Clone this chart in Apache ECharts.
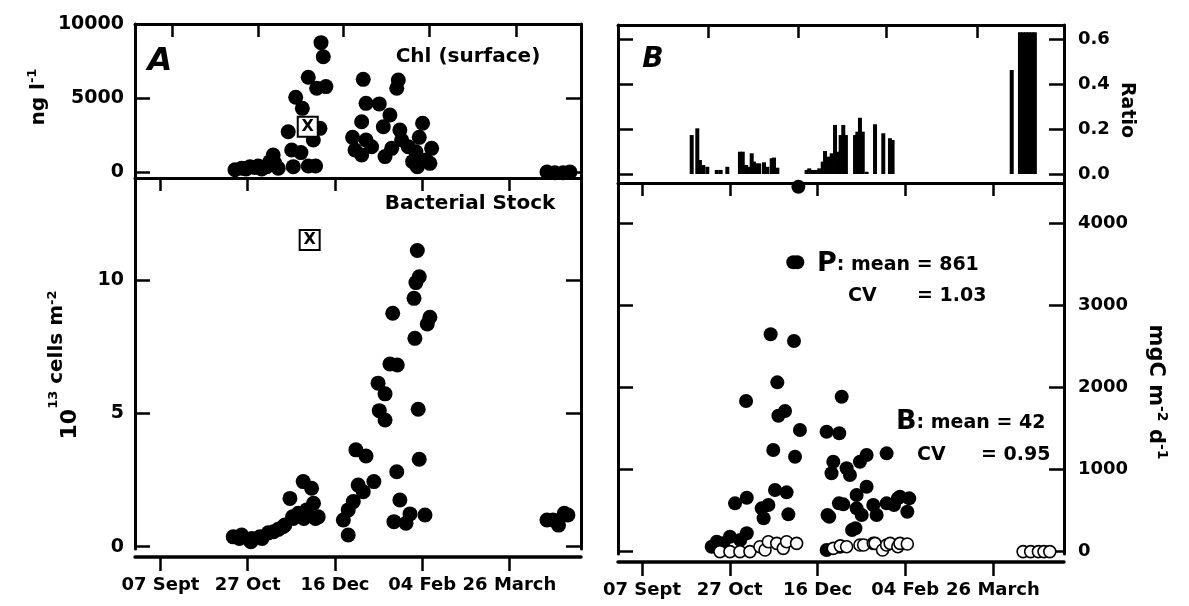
<!DOCTYPE html>
<html>
<head>
<meta charset="utf-8">
<title>Chl, bacterial stock and production</title>
<script src="https://cdn.jsdelivr.net/npm/echarts@6/dist/echarts.min.js"></script>
<style>
  html, body { margin: 0; padding: 0; background: #fff; }
  #chart { width: 1189px; height: 606px; }
</style>
</head>
<body>
<div id="chart"></div>
<script>
// date axis: days counted from 07 Sept
var tickDays = [0, 50, 100, 150, 200];
var tickNames = ['07 Sept', '27 Oct', '16 Dec', '04 Feb', '26 March'];

// A top: surface Chl, ng l-1
var chlDays = [42.7, 46.5, 49, 51.3, 54, 56, 58, 60.9, 62.7, 64.6, 65.6, 67.5,
    73.2, 75.2, 76.1, 77.5, 80.5, 81.3, 84.7, 84.7, 87.6, 88.9, 89.5, 91.4, 92, 93.3, 94.8,
    110.1, 111.5, 115.3, 115.3, 116.2, 117.8, 117.8, 121, 125.4, 127.7, 128.7, 131.5, 132.5,
    135.4, 136.3, 137.2, 138.2, 142, 144.5, 146.4, 147.2, 148.3, 150.2, 152.1, 154.4, 155.4,
    221.5, 226, 230.7, 234.7];
var chlValues = [150, 250, 200, 360, 300, 405, 200, 360, 700, 1150, 585, 250,
    2720, 1490, 360, 5050, 1310, 4300, 6400, 405, 2160, 405, 5660, 2950, 8740, 7790, 5770,
    2340, 1490, 3400, 1150, 6260, 4640, 2160, 1710, 4600, 3060, 1040, 3850, 1600,
    5660, 6220, 2840, 2160, 1710, 700, 1370, 360, 2340, 3290, 810, 585, 1600,
    0, -50, -50, 0];
var chlFlag = [84.4, 3060];

// A bottom: bacterial stock, 10^13 cells m-2
var bactDays = [41.7, 45.2, 46.5, 51.8, 52.3, 57, 58.2, 61.8, 64.8, 67.5, 70.2, 71.3,
    74.2, 75.7, 76.1, 79, 81.8, 82.2, 83.8, 86.6, 87.7, 88.8, 90.4,
    104.8, 107.6, 107.6, 110.5, 112, 113.3, 116.2, 117.8, 122.3, 124.7, 125.4, 128.7, 128.7,
    131.5, 133.1, 133.8, 135.4, 135.7, 137.2, 140.7, 143, 145.3, 145.8, 146.4, 147.2, 147.7,
    148.3, 148.3, 151.6, 152.9, 154.4,
    221.5, 225, 228.1, 231.4, 233.5];
var bactValues = [0.37, 0.31, 0.44, 0.19, 0.31, 0.37, 0.31, 0.52, 0.56, 0.65, 0.75, 0.81,
    1.81, 1.12, 1.06, 1.25, 2.44, 1.06, 1.38, 2.19, 1.63, 1.06, 1.12,
    1.0, 0.44, 1.38, 1.69, 3.63, 2.31, 2.06, 3.4, 2.44, 6.13, 5.1, 5.73, 4.75,
    6.85, 8.75, 0.94, 2.81, 6.81, 1.75, 0.88, 1.23, 9.31, 7.81, 9.9, 11.1, 5.15,
    10.12, 3.28, 1.19, 8.35, 8.6,
    1.0, 1.0, 0.81, 1.25, 1.19];
var bactFlag = [85.5, 11.5];

// B top: ratio
var ratioDays = [28.3, 31.5, 33, 34.9, 37.2, 42.6, 44.8, 48.6, 55.8, 57.4, 59.3, 61.1, 62.5,
    63.8, 65.7, 66.8, 69.5, 71.4, 73.9, 75.2, 77.1,
    93.8, 95.3, 97.3, 99.1, 101, 103, 104.3, 106.2, 108.1, 110, 111.3, 113.2, 114.7, 116.2,
    121.4, 122.7, 124.2, 125.8, 128, 132.8, 137.5, 141.3, 142.8,
    210.7, 215.4, 217.1, 218.8, 220.5, 222.2, 223.9];
var ratioValues = [0.173, 0.203, 0.062, 0.04, 0.032, 0.018, 0.018, 0.032, 0.099, 0.099, 0.04, 0.032, 0.092,
    0.055, 0.047, 0.047, 0.052, 0.032, 0.07, 0.073, 0.028,
    0.018, 0.025, 0.018, 0.018, 0.025, 0.055, 0.102, 0.077, 0.092, 0.218, 0.099, 0.173, 0.218, 0.173,
    0.173, 0.188, 0.25, 0.188, 0.01, 0.221, 0.181, 0.159, 0.151,
    0.462, 0.63, 0.63, 0.63, 0.63, 0.63, 0.63];

// B bottom: production P (filled) and B (open), mgC m-2 d-1
var prodPDays = [39.7, 42.6, 46.3, 50.1, 53, 56, 59.3, 59.7, 59.7, 68.2, 69.3, 72, 73.3, 74.8,
    75.8, 77.1, 77.7, 81.5, 82.4, 83.4, 86.2, 86.6, 87.2, 88.5, 89.1, 90,
    105.2, 105.2, 105.7, 106.7, 108, 109, 112.4, 112.2, 112.8, 113.8, 114.7, 116.6, 118.5,
    119.7, 121.6, 122.3, 122.3, 124.2, 125.2, 128, 128, 131.8, 133.7, 139.4, 139.4, 143.6,
    145.8, 147, 151.2, 152.3];
var prodPValues = [60, 121, 101, 182, 588, 141, 1834, 657, 223, 527, 406, 568, 2647, 1238,
    750, 2062, 1655, 1713, 722, 454, 3524, 2565, 1156, 3524, 4444, 1481,
    1460, 20, 446, 425, 954, 1095, 1441, 588, 60, 1887, 576, 1015, 933,
    263, 284, 689, 527, 1095, 446, 1177, 790, 568, 446, 1197, 588, 568,
    649, 669, 486, 649];
var prodBDays = [44.4, 50.1, 55.8, 61.5, 67.2, 70.1, 72, 76.8, 80.5, 82.4, 88.1,
    109, 113, 116.6, 124.2, 126.3, 131.8, 132.8, 137.1, 139.4, 141.4, 145.8, 147, 151.2,
    217.2, 221.5, 225.9, 229.1, 232.4];
var prodBValues = [0, 0, 0, 0, 60, 20, 121, 101, 40, 121, 101,
    40, 70, 60, 80, 80, 101, 101, 20, 80, 101, 60, 101, 93,
    0, 0, 0, 0, 0];

var FONT = 'DejaVu Sans';

function pairs(xs, ys) {
    var res = [];
    for (var i = 0; i < xs.length; i++) {
        res.push([xs[i], ys[i]]);
    }
    return res;
}

function plain(v) {
    return String(v);
}

function xEdge(grid, pos, min, max, ticks, withLabels) {
    return {
        type: 'value', gridIndex: grid, position: pos, min: min, max: max,
        offset: withLabels ? 8 : 0,
        axisLine: { show: true, onZero: false, lineStyle: { color: '#000', width: withLabels ? 3.5 : 3 } },
        axisTick: { show: true, inside: !withLabels, length: withLabels ? 14 : 13, customValues: ticks,
            lineStyle: { color: '#000', width: 2.5 } },
        axisLabel: withLabels ? {
            show: true, customValues: ticks, margin: 19, color: '#000',
            fontFamily: FONT, fontWeight: 'bold', fontSize: 18,
            formatter: function (v) { return tickNames[tickDays.indexOf(v)]; }
        } : { show: false },
        splitLine: { show: false }
    };
}

function yEdge(grid, pos, min, max, ticks, label) {
    return {
        type: 'value', gridIndex: grid, position: pos, min: min, max: max,
        axisLine: { show: true, onZero: false, lineStyle: { color: '#000', width: 3 } },
        axisTick: { show: true, inside: true, length: 15, customValues: ticks,
            lineStyle: { color: '#000', width: 2.5 } },
        axisLabel: label ? {
            show: true, customValues: ticks, margin: label.margin, color: '#000',
            fontFamily: FONT, fontWeight: 'bold', fontSize: label.size,
            formatter: label.fmt || plain
        } : { show: false },
        splitLine: { show: false }
    };
}

function txt(x, y, text, size, extra) {
    var el = {
        type: 'text', x: x, y: y, silent: true,
        style: { text: text, fill: '#000', fontFamily: FONT, fontWeight: 'bold', fontSize: size,
            align: 'center', verticalAlign: 'middle' }
    };
    for (var k in extra) {
        if (k === 'style') {
            for (var s in extra.style) el.style[s] = extra.style[s];
        } else {
            el[k] = extra[k];
        }
    }
    return el;
}

var chart = echarts.init(document.getElementById('chart'));

var dot = { color: '#000', opacity: 1 };
var flagLabel = { show: true, position: 'inside', formatter: 'X', color: '#000',
    fontFamily: FONT, fontWeight: 'bold', fontSize: 16 };
var flagStyle = { color: '#fff', borderColor: '#000', borderWidth: 2, opacity: 1 };

var option = {
    backgroundColor: '#fff',
    animation: false,
    grid: [
        { left: 135, top: 24, width: 446, height: 154, outerBoundsMode: 'none' },
        { left: 135, top: 178, width: 446, height: 371, outerBoundsMode: 'none' },
        { left: 618, top: 25, width: 446, height: 158, outerBoundsMode: 'none' },
        { left: 618, top: 183, width: 446, height: 371, outerBoundsMode: 'none' }
    ],
    xAxis: [
        xEdge(0, 'top', -14.6, 241, [7, 56, 105, 154, 204], false),
        xEdge(1, 'top', -14.6, 241, tickDays, false),
        xEdge(1, 'bottom', -14.6, 241, tickDays, true),
        xEdge(2, 'top', -13.7, 240.5, [38, 89, 139, 191], false),
        xEdge(3, 'top', -13.7, 240.5, tickDays, false),
        xEdge(3, 'bottom', -13.7, 240.5, tickDays, true)
    ],
    yAxis: [
        yEdge(0, 'left', -405, 10000, [0, 5000, 10000], { margin: 11, size: 19 }),
        yEdge(0, 'right', -405, 10000, [0, 5000, 10000], null),
        yEdge(1, 'left', -0.086, 13.82, [0, 5, 10], { margin: 11, size: 19 }),
        yEdge(1, 'right', -0.086, 13.82, [0, 5, 10], null),
        yEdge(2, 'left', -0.04, 0.662, [0, 0.2, 0.4, 0.6], null),
        yEdge(2, 'right', -0.04, 0.662, [0, 0.2, 0.4, 0.6],
            { margin: 14, size: 18, fmt: function (v) { return v.toFixed(1); } }),
        yEdge(3, 'left', -29, 4490, [0, 1000, 2000, 3000, 4000], null),
        yEdge(3, 'right', -29, 4490, [0, 1000, 2000, 3000, 4000], { margin: 14, size: 18 })
    ],
    series: [
        {
            name: 'Chl', type: 'scatter', xAxisIndex: 0, yAxisIndex: 0,
            data: pairs(chlDays, chlValues), symbolSize: 15,
            itemStyle: dot
        },
        {
            name: 'Chl flag', type: 'scatter', xAxisIndex: 0, yAxisIndex: 0,
            data: [chlFlag], symbol: 'rect', symbolSize: 20,
            itemStyle: flagStyle, label: flagLabel
        },
        {
            name: 'Bacterial stock', type: 'scatter', xAxisIndex: 2, yAxisIndex: 2,
            data: pairs(bactDays, bactValues), symbolSize: 15,
            itemStyle: dot
        },
        {
            name: 'Bacteria flag', type: 'scatter', xAxisIndex: 2, yAxisIndex: 2,
            data: [bactFlag], symbol: 'rect', symbolSize: 20,
            itemStyle: flagStyle, label: flagLabel
        },
        {
            name: 'Ratio', type: 'bar', xAxisIndex: 3, yAxisIndex: 5,
            data: pairs(ratioDays, ratioValues), barWidth: 4,
            itemStyle: { color: '#000' }
        },
        {
            name: 'P', type: 'scatter', xAxisIndex: 5, yAxisIndex: 7,
            data: pairs(prodPDays, prodPValues), symbolSize: 14,
            itemStyle: dot
        },
        {
            name: 'B', type: 'scatter', xAxisIndex: 5, yAxisIndex: 7,
            data: pairs(prodBDays, prodBValues), symbolSize: 12,
            itemStyle: { color: '#fff', borderColor: '#000', borderWidth: 1.6, opacity: 1 }
        }
    ],
    graphic: [
        txt(160, 62, 'A', 32, { style: { fontStyle: 'italic' } }),
        txt(653, 60, 'B', 28, { style: { fontStyle: 'italic' } }),
        txt(468, 57, 'Chl (surface)', 20),
        txt(470, 204, 'Bacterial Stock', 20),
        txt(49, 97, '{b|ng l}{s|-1}', 20, {
            rotation: Math.PI / 2,
            style: {
                verticalAlign: 'bottom',
                rich: {
                    b: { fontFamily: FONT, fontWeight: 'bold', fontSize: 20, lineHeight: 24, verticalAlign: 'bottom' },
                    s: { fontFamily: FONT, fontWeight: 'bold', fontSize: 13, lineHeight: 16, verticalAlign: 'bottom', padding: [0, 0, 10, 0] }
                }
            }
        }),
        txt(81, 365, '{b|10}{s|13}{m| cells m}{t|-2}', 22, {
            rotation: Math.PI / 2,
            style: {
                verticalAlign: 'bottom',
                rich: {
                    b: { fontFamily: FONT, fontWeight: 'bold', fontSize: 22, lineHeight: 26, verticalAlign: 'bottom' },
                    s: { fontFamily: FONT, fontWeight: 'bold', fontSize: 13, lineHeight: 16, verticalAlign: 'bottom', padding: [0, 0, 21, 0] },
                    m: { fontFamily: FONT, fontWeight: 'bold', fontSize: 20, lineHeight: 24, verticalAlign: 'bottom', padding: [0, 0, 14, 0] },
                    t: { fontFamily: FONT, fontWeight: 'bold', fontSize: 13, lineHeight: 16, verticalAlign: 'bottom', padding: [0, 0, 22, 0] }
                }
            }
        }),
        txt(1127, 110, 'Ratio', 19, { rotation: -Math.PI / 2 }),
        txt(1145, 392, '{b|mgC m}{s|-2}{b| d}{s|-1}', 21, {
            rotation: -Math.PI / 2,
            style: {
                verticalAlign: 'bottom',
                rich: {
                    b: { fontFamily: FONT, fontWeight: 'bold', fontSize: 21, lineHeight: 25, verticalAlign: 'bottom' },
                    s: { fontFamily: FONT, fontWeight: 'bold', fontSize: 14, lineHeight: 17, verticalAlign: 'bottom', padding: [0, 0, 10, 0] }
                }
            }
        }),
        txt(817, 277, '{p|P}{t|: mean = 861}', 27, {
            style: {
                align: 'left', verticalAlign: 'bottom',
                rich: {
                    p: { fontFamily: FONT, fontWeight: 'bold', fontSize: 27, lineHeight: 32, verticalAlign: 'bottom' },
                    t: { fontFamily: FONT, fontWeight: 'bold', fontSize: 19, lineHeight: 23, verticalAlign: 'bottom', padding: [0, 0, 2, 0] }
                }
            }
        }),
        txt(848, 296, 'CV', 19, { style: { align: 'left' } }),
        txt(917, 296, '= 1.03', 19, { style: { align: 'left' } }),
        txt(896, 435, '{p|B}{t|: mean = 42}', 27, {
            style: {
                align: 'left', verticalAlign: 'bottom',
                rich: {
                    p: { fontFamily: FONT, fontWeight: 'bold', fontSize: 27, lineHeight: 32, verticalAlign: 'bottom' },
                    t: { fontFamily: FONT, fontWeight: 'bold', fontSize: 19, lineHeight: 23, verticalAlign: 'bottom', padding: [0, 0, 2, 0] }
                }
            }
        }),
        txt(917, 455, 'CV', 19, { style: { align: 'left' } }),
        txt(981, 455, '= 0.95', 19, { style: { align: 'left' } })
    ]
};

chart.setOption(option);
</script>
</body>
</html>
